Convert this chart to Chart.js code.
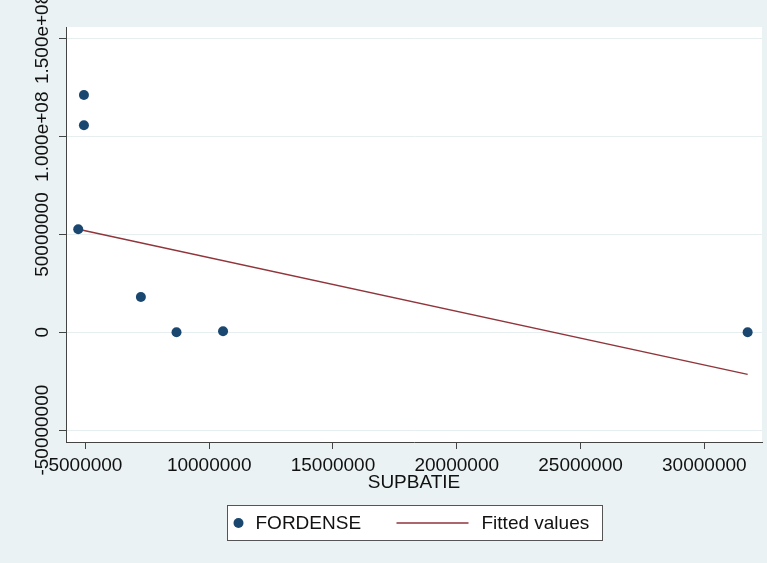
<!DOCTYPE html>
<html>
<head>
<meta charset="utf-8">
<script src="https://cdn.jsdelivr.net/npm/chart.js@4/dist/chart.umd.min.js"></script>
<style>
  html, body { margin: 0; padding: 0; background: #eaf2f3; }
  #wrap { width: 767px; height: 563px; }
</style>
</head>
<body>
<div id="wrap"><canvas id="c" width="767" height="563"></canvas></div>
<script>
// Observations: building surface vs. FORDENSE
const supbatie = [4940000, 4940000, 4710000, 7240000, 8680000, 10560000, 31750000];
const fordense = [121300000, 105900000, 52700000, 18100000, 0, 500000, 0];

// Linear fit, evaluated at the ends of the SUPBATIE range
const fitX = [4710000, 31750000];
const fitY = [52700000, -21500000];

// Axis ticks and labels
const xTicks = [5000000, 10000000, 15000000, 20000000, 25000000, 30000000];
const xTickLabels = ['5000000', '10000000', '15000000', '20000000', '25000000', '30000000'];
const yTicks = [-50000000, 0, 50000000, 100000000, 150000000];
const yTickLabels = ['-50000000', '0', '50000000', '1.000e+08', '1.500e+08'];

const seriesNames = ['FORDENSE', 'Fitted values'];
const xTitle = 'SUPBATIE';

const FONT = '"Liberation Sans", Arial, Helvetica, sans-serif';
const DOT = '#1a476f';
const FIT = '#90353b';
const REGION = '#eaf2f3';
const AXIS = '#444';
const TEXT = '#111';

Chart.defaults.font.family = FONT;

// Graph region and plot region backgrounds
const backdrop = {
  id: 'backdrop',
  beforeDraw(chart) {
    const { ctx, chartArea: a } = chart;
    ctx.save();
    ctx.fillStyle = REGION;
    ctx.fillRect(0, 0, chart.width, chart.height);
    ctx.fillStyle = '#ffffff';
    ctx.fillRect(a.left, a.top, a.right - a.left, a.bottom - a.top);
    ctx.restore();
  }
};

// Vertical y tick labels, centred on each tick
const verticalYLabels = {
  id: 'verticalYLabels',
  afterDraw(chart) {
    const { ctx } = chart;
    const y = chart.scales.y;
    ctx.save();
    ctx.font = '19px ' + FONT;
    ctx.fillStyle = TEXT;
    ctx.textAlign = 'center';
    ctx.textBaseline = 'middle';
    y.ticks.forEach(t => {
      const i = yTicks.indexOf(t.value);
      if (i < 0) return;
      ctx.save();
      ctx.translate(43, y.getPixelForValue(t.value));
      ctx.rotate(-Math.PI / 2);
      ctx.fillText(yTickLabels[i], 0, 0);
      ctx.restore();
    });
    ctx.restore();
  }
};

// Boxed legend below the axis title
const boxLegend = {
  id: 'boxLegend',
  afterDraw(chart) {
    const { ctx } = chart;
    const cx = (chart.chartArea.left + chart.chartArea.right) / 2;
    const w = 375, h = 35;
    const left = Math.round(cx - w / 2) + 0.5;
    const top = 505.5;
    const mid = top + h / 2;
    ctx.save();
    ctx.fillStyle = '#ffffff';
    ctx.fillRect(left, top, w, h);
    ctx.strokeStyle = '#555';
    ctx.lineWidth = 1;
    ctx.strokeRect(left, top, w, h);

    ctx.fillStyle = DOT;
    ctx.beginPath();
    ctx.arc(left + 11, mid, 5, 0, Math.PI * 2);
    ctx.fill();

    ctx.font = '19px ' + FONT;
    ctx.fillStyle = TEXT;
    ctx.textAlign = 'left';
    ctx.textBaseline = 'middle';
    ctx.fillText(seriesNames[0], left + 28, mid + 1);

    ctx.strokeStyle = FIT;
    ctx.lineWidth = 1.5;
    ctx.beginPath();
    ctx.moveTo(left + 169, mid);
    ctx.lineTo(left + 241, mid);
    ctx.stroke();

    ctx.fillText(seriesNames[1], left + 254, mid + 1);
    ctx.restore();
  }
};

new Chart(document.getElementById('c'), {
  type: 'scatter',
  data: {
    datasets: [
      {
        label: seriesNames[0],
        data: supbatie.map((x, i) => ({ x, y: fordense[i] })),
        backgroundColor: DOT,
        borderColor: DOT,
        borderWidth: 0,
        pointRadius: 5,
        order: 1
      },
      {
        label: seriesNames[1],
        type: 'line',
        data: fitX.map((x, i) => ({ x, y: fitY[i] })),
        borderColor: FIT,
        borderWidth: 1.5,
        pointRadius: 0,
        fill: false,
        order: 2
      }
    ]
  },
  options: {
    responsive: false,
    animation: false,
    devicePixelRatio: 1,
    layout: { padding: { top: 27, right: 5, bottom: 69, left: 0 } },
    plugins: {
      legend: { display: false },
      tooltip: { enabled: false }
    },
    scales: {
      x: {
        type: 'linear',
        position: 'bottom',
        min: 4216000,
        max: 32330000,
        afterBuildTicks: s => { s.ticks = xTicks.map(v => ({ value: v })); },
        afterFit: s => { s.height = 52; },
        ticks: {
          callback: v => { const i = xTicks.indexOf(v); return i < 0 ? '' : xTickLabels[i]; },
          font: { size: 19 },
          color: TEXT,
          padding: 5,
          maxRotation: 0,
          autoSkip: false
        },
        grid: {
          drawOnChartArea: false,
          drawTicks: true,
          tickLength: 7,
          tickColor: AXIS,
          tickWidth: 1
        },
        border: { display: true, color: AXIS, width: 1 },
        title: {
          display: true,
          text: xTitle,
          font: { size: 19 },
          color: TEXT,
          padding: { top: 0, bottom: 0 }
        }
      },
      y: {
        type: 'linear',
        position: 'left',
        min: -56080000,
        max: 156100000,
        afterBuildTicks: s => { s.ticks = yTicks.map(v => ({ value: v })); },
        afterFit: s => { s.width = 66; },
        ticks: { display: false },
        grid: {
          color: '#e6eef0',
          lineWidth: 1,
          drawTicks: true,
          tickLength: 7,
          tickColor: AXIS,
          tickWidth: 1
        },
        border: { display: true, color: AXIS, width: 1 }
      }
    }
  },
  plugins: [backdrop, verticalYLabels, boxLegend]
});
</script>
</body>
</html>
